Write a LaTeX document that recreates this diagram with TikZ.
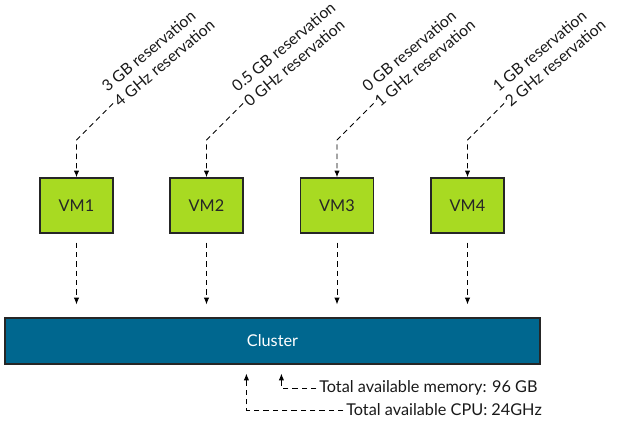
\documentclass[tikz,border=0pt]{standalone}
\usepackage{fontspec}
\setmainfont{Lato}
\usetikzlibrary{arrows.meta,calc}
\definecolor{vmgreen}{RGB}{168,218,34}
\definecolor{clusterblue}{RGB}{0,103,143}
\definecolor{edgegray}{RGB}{38,38,38}
\tikzset{
	vmbox/.style={draw=edgegray, line width=1.1pt, fill=vmgreen, minimum width=54.75pt, minimum height=41.25pt, inner sep=0pt, text=black!85, font=\fontsize{12.2}{14}\selectfont},
	clusterbox/.style={draw=edgegray, line width=0.9pt, fill=clusterblue, minimum width=401.25pt, minimum height=34.5pt, inner sep=0pt, text=white, font=\fontsize{12.2}{14}\selectfont},
	restext/.style={rotate=40, anchor=south west, align=left, inner sep=0pt, text=black!90, font=\fontsize{11.8}{14.5}\selectfont},
	totaltext/.style={anchor=west, inner sep=0pt, text=black!90, font=\fontsize{12.2}{14}\selectfont},
	link/.style={line width=0.7pt, dash pattern=on 4pt off 3pt, -{Latex[length=5pt,width=4pt]}},
}

\begin{document}
\begin{tikzpicture}[x=0.75pt, y=-0.75pt]
	\useasboundingbox (0, 0) rectangle (618, 423);
	%%%%% START %%%%%
	
	\node[clusterbox] (cluster) at (272.5, 341) {Cluster};
	
	\node[vmbox] (vm1) at (76.5, 205.5) {VM1};
	\node[vmbox] (vm2) at (206.5, 205.5) {VM2};
	\node[vmbox] (vm3) at (337, 205.5) {VM3};
	\node[vmbox] (vm4) at (467.5, 205.5) {VM4};
	
	%%%%% RESERVATIONS %%%%%
	
	\node[restext] (res1) at (120, 108) {3 GB reservation\\4 GHz reservation};
	\node[restext] (res2) at (250, 108) {0.5 GB reservation\\0 GHz reservation};
	\node[restext] (res3) at (380.5, 108) {0 GB reservation\\1 GHz reservation};
	\node[restext] (res4) at (511, 108) {1 GB reservation\\2 GHz reservation};
	
	\coordinate (bend1) at (76.5, 140);
	\coordinate (bend2) at (206.5, 140);
	\coordinate (bend3) at (337, 140);
	\coordinate (bend4) at (467.5, 140);
	
	\draw[link] ([shift={(-7, -4.5)}]res1.south west) -- (bend1) -- (vm1.north);
	\draw[link] ([shift={(-7, -4.5)}]res2.south west) -- (bend2) -- (vm2.north);
	\draw[link] ([shift={(-7, -4.5)}]res3.south west) -- (bend3) -- (vm3.north);
	\draw[link] ([shift={(-7, -4.5)}]res4.south west) -- (bend4) -- (vm4.north);
	
	%%%%% VM TO CLUSTER %%%%%
	
	\draw[link] ($(vm1.south)+(0, 9)$) -- ($(vm1.south |- cluster.north)+(0, -13)$);
	\draw[link] ($(vm2.south)+(0, 9)$) -- ($(vm2.south |- cluster.north)+(0, -13)$);
	\draw[link] ($(vm3.south)+(0, 9)$) -- ($(vm3.south |- cluster.north)+(0, -13)$);
	\draw[link] ($(vm4.south)+(0, 9)$) -- ($(vm4.south |- cluster.north)+(0, -13)$);
	
	%%%%% TOTALS %%%%%
	
	\node[totaltext] (mem) at (319, 388) {Total available memory: 96 GB};
	\node[totaltext] (cpu) at (346, 410) {Total available CPU: 24GHz};
	
	\draw[link] ([xshift=-2pt]mem.west) -| ($(cluster.south west)+(277, 9)$);
	\draw[link] ([xshift=-2pt]cpu.west) -| ($(cluster.south west)+(242, 9)$);
	
	%%%%% END %%%%%
\end{tikzpicture}
\end{document}
